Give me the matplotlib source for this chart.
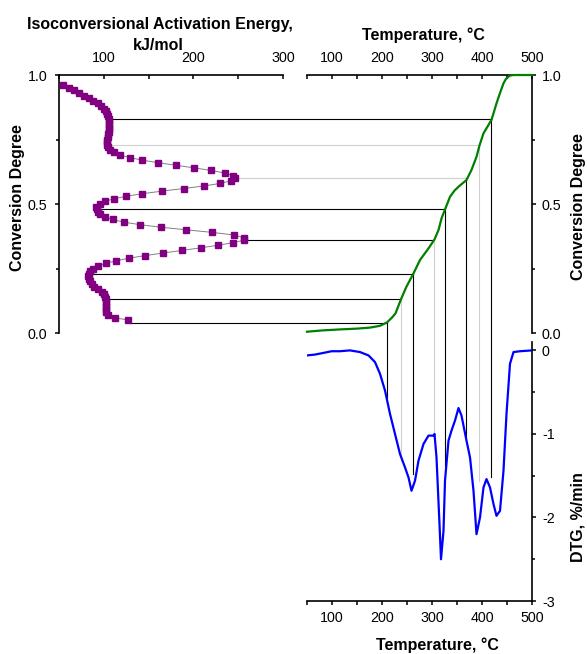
"""
Isoconversional activation energy against conversion degree, with the
conversion curve and the DTG curve it was read from.
"""

import matplotlib.pyplot as plt
from matplotlib.lines import Line2D
from matplotlib.ticker import MultipleLocator


# ============================================================================
# Global Plot Style
# ============================================================================

plt.rcParams.update(
    {
        "font.family": ["Liberation Sans", "DejaVu Sans"],
        "font.size": 10.3,
        "axes.linewidth": 1.2,
        "axes.unicode_minus": False,
        "xtick.major.width": 1.1,
        "ytick.major.width": 1.1,
        "xtick.minor.width": 1.1,
        "ytick.minor.width": 1.1,
        "xtick.major.size": 3.2,
        "ytick.major.size": 3.2,
        "xtick.minor.size": 2.6,
        "ytick.minor.size": 2.2,
    }
)


# ============================================================================
# Data
# ============================================================================

# Activation energy (kJ/mol) at each conversion degree
alpha_ea = [
    0.05, 0.06, 0.07, 0.08, 0.09, 0.10, 0.11, 0.12, 0.13, 0.14,
    0.15, 0.16, 0.17, 0.18, 0.19, 0.20, 0.21, 0.22, 0.23, 0.24,
    0.25, 0.26, 0.27, 0.28, 0.29, 0.30, 0.31, 0.32, 0.33, 0.34,
    0.35, 0.36, 0.37, 0.38, 0.39, 0.40, 0.41, 0.42, 0.43, 0.44,
    0.45, 0.46, 0.47, 0.48, 0.49, 0.50, 0.51, 0.52, 0.53, 0.54,
    0.55, 0.56, 0.57, 0.58, 0.59, 0.60, 0.61, 0.62, 0.63, 0.64,
    0.65, 0.66, 0.67, 0.68, 0.69, 0.70, 0.71, 0.72, 0.73, 0.74,
    0.75, 0.76, 0.77, 0.78, 0.79, 0.80, 0.81, 0.82, 0.83, 0.84,
    0.85, 0.86, 0.87, 0.88, 0.89, 0.90, 0.91, 0.92, 0.93, 0.94,
    0.95, 0.96,
]
ea = [
    127, 112, 105, 103, 102.5, 102, 102, 102, 102, 101.5,
    100, 98, 94, 89, 86.5, 84.5, 83, 82.5, 83, 85,
    88, 94, 102, 114, 128, 146, 166, 187, 208, 227,
    244, 257, 256, 245, 221, 192, 164, 140, 122, 110,
    101, 96, 94, 92, 91, 96, 101, 111, 125, 143,
    165, 189, 212, 230, 242, 246, 244, 235, 220, 201,
    181, 161, 143, 129, 118, 111, 107, 105, 104, 104,
    104, 104.5, 105, 105.5, 106, 106, 106, 106, 105.5, 104.5,
    103.5, 102, 100, 97, 93, 88, 83, 78, 72, 67,
    61, 54,
]

# Conversion degree against temperature (degC)
temp_conv = [
    50, 80, 116, 150, 176, 196, 210, 220, 227, 238,
    249, 263, 276, 293, 305, 313, 319, 326, 336, 345,
    353, 369, 379, 389, 395, 403, 419, 429, 436, 443,
    448, 455, 462, 500,
]
conversion = [
    0.005, 0.010, 0.014, 0.017, 0.021, 0.028, 0.041, 0.060, 0.076, 0.131,
    0.180, 0.231, 0.283, 0.328, 0.363, 0.399, 0.444, 0.479, 0.528, 0.552,
    0.567, 0.593, 0.632, 0.683, 0.727, 0.774, 0.826, 0.890, 0.930, 0.968,
    0.985, 0.997, 1.000, 1.000,
]

# DTG (%/min) against temperature (degC)
temp_dtg = [
    50, 66, 83, 99, 116, 136, 156, 173, 186, 196,
    206, 216, 226, 236, 246, 253, 259, 266, 273, 283,
    293, 303, 305, 309, 315, 318, 323, 326, 333, 339,
    346, 353, 359, 369, 376, 383, 389, 396, 403, 409,
    416, 423, 429, 436, 443, 449, 456, 463, 476, 500,
]
dtg = [
    -0.06, -0.05, -0.03, -0.01, -0.01, 0.0, -0.02, -0.06, -0.14, -0.28,
    -0.48, -0.76, -1.00, -1.24, -1.40, -1.52, -1.68, -1.56, -1.32, -1.12,
    -1.02, -1.02, -1.00, -1.28, -2.08, -2.50, -2.16, -1.56, -1.08, -0.96,
    -0.84, -0.69, -0.78, -1.08, -1.28, -1.68, -2.20, -2.00, -1.64, -1.54,
    -1.64, -1.84, -1.98, -1.92, -1.44, -0.76, -0.16, -0.02, -0.01, 0.0,
]

# Guide lines: conversion level, activation energy where the line starts,
# temperature on the conversion curve and DTG where the drop line ends
guide_alpha = [0.04, 0.13, 0.23, 0.36, 0.48, 0.60, 0.73, 0.83]
guide_ea = [129, 105, 85, 260, 92, 249, 103, 109]
guide_temp = [210, 238, 263, 305, 326, 369, 395, 419]
guide_dtg = [-0.575, -1.32, -1.48, -1.0, -1.39, -1.02, -1.56, -1.52]


# ============================================================================
# Figure
# ============================================================================

GRAY = "#d0d0d0"
h_colors = ["k", "k", "k", "k", "k", GRAY, GRAY, "k"]
v_colors = ["k", GRAY, "k", GRAY, "k", "k", GRAY, "k"]

fig = plt.figure(figsize=(5.87, 6.54), dpi=100)

ax_e = fig.add_axes([0.1005, 0.4908, 0.3816, 0.3945])
ax_t = fig.add_axes([0.5230, 0.4908, 0.3833, 0.3945])
ax_d = fig.add_axes([0.5230, 0.0810, 0.3833, 0.3960])

for ax in (ax_e, ax_t, ax_d):
    ax.patch.set_visible(False)

# Activation energy panel
ax_e.plot(
    ea,
    alpha_ea,
    color="#808080",
    linewidth=0.7,
    marker="s",
    markersize=3.8,
    markerfacecolor="#800080",
    markeredgecolor="#800080",
    clip_on=False,
    zorder=3,
)
ax_e.set_xlim(50, 300)
ax_e.set_ylim(0, 1)
ax_e.xaxis.tick_top()
ax_e.xaxis.set_minor_locator(MultipleLocator(50))
ax_e.set_xticks([100, 200, 300])
ax_e.yaxis.set_major_locator(MultipleLocator(0.5))
ax_e.yaxis.set_minor_locator(MultipleLocator(0.25))
ax_e.yaxis.set_major_formatter(plt.FormatStrFormatter("%.1f"))
ax_e.tick_params(axis="x", which="both", direction="in", pad=7)
ax_e.tick_params(axis="y", which="both", direction="out", pad=5)
ax_e.spines[["right", "bottom"]].set_visible(False)

# Conversion panel
ax_t.plot(temp_conv, conversion, color="#008000", linewidth=1.6,
          clip_on=False, zorder=3)
ax_t.set_xlim(50, 500)
ax_t.set_ylim(0, 1)
ax_t.xaxis.tick_top()
ax_t.yaxis.tick_right()
ax_t.xaxis.set_major_locator(MultipleLocator(100))
ax_t.xaxis.set_minor_locator(MultipleLocator(50))
ax_t.yaxis.set_major_locator(MultipleLocator(0.5))
ax_t.yaxis.set_minor_locator(MultipleLocator(0.25))
ax_t.yaxis.set_major_formatter(plt.FormatStrFormatter("%.1f"))
ax_t.tick_params(axis="x", which="both", direction="in", pad=7)
ax_t.tick_params(axis="y", which="both", direction="out", pad=4)
ax_t.spines[["left", "bottom"]].set_visible(False)

# DTG panel
ax_d.plot(temp_dtg, dtg, color="#0000ff", linewidth=1.6, zorder=3)
ax_d.set_xlim(50, 500)
ax_d.set_ylim(-3, 0.1)
ax_d.yaxis.tick_right()
ax_d.xaxis.set_major_locator(MultipleLocator(100))
ax_d.xaxis.set_minor_locator(MultipleLocator(50))
ax_d.set_yticks([-3, -2, -1, 0])
ax_d.set_yticklabels(["-3", "-2", "-1", "0"])
ax_d.yaxis.set_minor_locator(MultipleLocator(0.5))
ax_d.tick_params(axis="both", which="both", direction="out", pad=4)
ax_d.spines[["left", "top"]].set_visible(False)

# Guide lines across the panels, drawn in figure coordinates
to_fig = fig.transFigure.inverted()
for a, e, t, d, hc, vc in zip(guide_alpha, guide_ea, guide_temp,
                              guide_dtg, h_colors, v_colors):
    x0, y0 = to_fig.transform(ax_e.transData.transform((e, a)))
    x1, y1 = to_fig.transform(ax_t.transData.transform((t, a)))
    x2, y2 = to_fig.transform(ax_d.transData.transform((t, d)))
    fig.add_artist(Line2D([x0, x1], [y0, y1], color=hc, linewidth=0.8,
                          transform=fig.transFigure, zorder=-1))
    fig.add_artist(Line2D([x1, x2], [y1, y2], color=vc, linewidth=0.8,
                          transform=fig.transFigure, zorder=-1))

# Axis titles
label_kw = dict(fontsize=11.5, fontweight="bold", ha="center", va="center")
fig.text(160 / 587, 1 - 24 / 654, "Isoconversional Activation Energy,",
         **label_kw)
fig.text(158 / 587, 1 - 45 / 654, "kJ/mol", **label_kw)
fig.text(423 / 587, 1 - 35 / 654, "Temperature, °C", **label_kw)
fig.text(437 / 587, 1 - 645 / 654, "Temperature, °C", **label_kw)
fig.text(18 / 587, 1 - 198 / 654, "Conversion Degree", rotation=90,
         **label_kw)
fig.text(578 / 587, 1 - 207 / 654, "Conversion Degree", rotation=90,
         **label_kw)
fig.text(578 / 587, 1 - 517 / 654, "DTG, %/min", rotation=90, **label_kw)

fig.savefig("out.png", dpi=100)
plt.close(fig)
